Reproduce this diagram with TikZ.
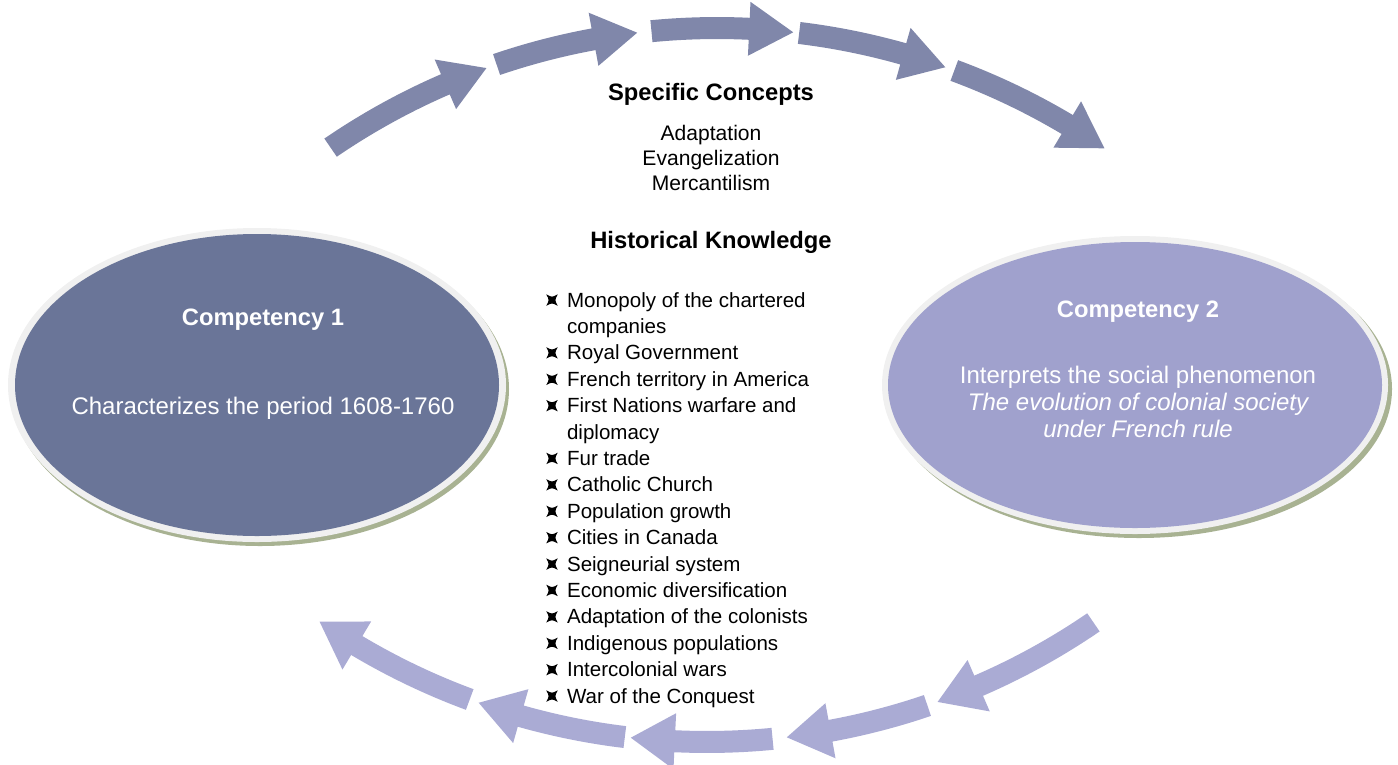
\documentclass[tikz,border=0pt]{standalone}
\usepackage{fontspec}
\setmainfont{Liberation Sans}
\usetikzlibrary{calc}
\definecolor{toparrow}{RGB}{128,135,170}
\definecolor{botarrow}{RGB}{170,171,212}
\definecolor{compone}{RGB}{106,117,152}
\definecolor{comptwo}{RGB}{160,161,205}
\definecolor{rimgray}{RGB}{240,240,240}
\definecolor{rimshade}{RGB}{168,178,146}
% bullet of the knowledge list
\newcommand{\hkbul}{\tikz[baseline=-5.2pt]\fill (-4.3pt,4.3pt) .. controls (0pt,2pt) .. (4.3pt,4.3pt) .. controls (2pt,0pt) .. (4.3pt,-4.3pt) .. controls (0pt,-2pt) .. (-4.3pt,-4.3pt) .. controls (-2pt,0pt) .. (-4.3pt,4.3pt) -- cycle;}

\begin{document}
\begin{tikzpicture}[x=.75pt,y=-.75pt,inner sep=0pt,
 comphead/.style={font=\fontsize{17.8}{20}\selectfont\bfseries},
 compbody/.style={font=\fontsize{18}{20.25}\selectfont},
 conceptfont/.style={font=\fontsize{15.8}{18.75}\selectfont},
 hkfont/.style={font=\fontsize{15.4}{19.8}\selectfont}]
 \useasboundingbox (0,0) rectangle (1398,764);
 % arrows over the top
 \foreach \a/\b in {-124.4/-109.7,-108.8/-96.7,-95.5/-83.6,-83.1/-70.5,-69.7/-55.5}{
  \pgfmathsetmacro\h{\b-3.7}
  \fill[toparrow,shift={(717,712)}] (\a:673) arc[start angle=\a,end angle=\h,radius=673] -- (\h:657) -- (\b:684) -- (\h:711) -- (\h:695) arc[start angle=\h,end angle=\a,radius=695] -- cycle;
 }
 % arrows under the bottom
 \foreach \a/\b in {55.6/70.3,71.2/83.3,84.5/96.4,96.9/109.5,110.3/124.5}{
  \pgfmathsetmacro\h{\b-3.7}
  \fill[botarrow,shift={(707,58)}] (\a:673) arc[start angle=\a,end angle=\h,radius=673] -- (\h:656) -- (\b:684) -- (\h:712) -- (\h:695) arc[start angle=\h,end angle=\a,radius=695] -- cycle;
 }
 % the two competencies
 \fill[rimshade] (260,389) ellipse[x radius=249,y radius=157];
 \fill[rimgray] (257,385) ellipse[x radius=249,y radius=157];
 \fill[compone] (257,385) ellipse[x radius=242,y radius=151];
 \fill[rimshade] (1139,389) ellipse[x radius=253,y radius=149];
 \fill[rimgray] (1135,385) ellipse[x radius=253,y radius=149];
 \fill[comptwo] (1135,385) ellipse[x radius=247,y radius=143];

 \node[comphead,text=white,anchor=base] (c1title) at (263,325) {Competency 1};
 \node[compbody,text=white,anchor=base] (c1text) at (263,414) {Characterizes the period 1608-1760};
 \node[comphead,text=white,anchor=base] (c2title) at (1138,317) {Competency 2};
 \node[compbody,text=white,anchor=base] (c2text) at (1138,383) {\begin{tabular}[t]{@{}c@{}}Interprets the social phenomenon\\\itshape The evolution of colonial society\\\itshape under French rule\end{tabular}};

 \node[comphead,anchor=base] (sctitle) at (711,100.5) {Specific Concepts};
 \node[conceptfont,anchor=base] (sclist) at (711,140.5) {\begin{tabular}[t]{@{}c@{}}Adaptation\\Evangelization\\Mercantilism\end{tabular}};
 \node[comphead,anchor=base] (hktitle) at (711,248.5) {Historical Knowledge};
 \node[hkfont,anchor=base west] (hklist) at (546,307) {\begin{tabular}[t]{@{}l@{\hspace{7pt}}l@{}}
  \hkbul & Monopoly of the chartered\\
         & companies\\
  \hkbul & Royal Government\\
  \hkbul & French territory in America\\
  \hkbul & First Nations warfare and\\
         & diplomacy\\
  \hkbul & Fur trade\\
  \hkbul & Catholic Church\\
  \hkbul & Population growth\\
  \hkbul & Cities in Canada\\
  \hkbul & Seigneurial system\\
  \hkbul & Economic diversification\\
  \hkbul & Adaptation of the colonists\\
  \hkbul & Indigenous populations\\
  \hkbul & Intercolonial wars\\
  \hkbul & War of the Conquest
 \end{tabular}};
\end{tikzpicture}
\end{document}
